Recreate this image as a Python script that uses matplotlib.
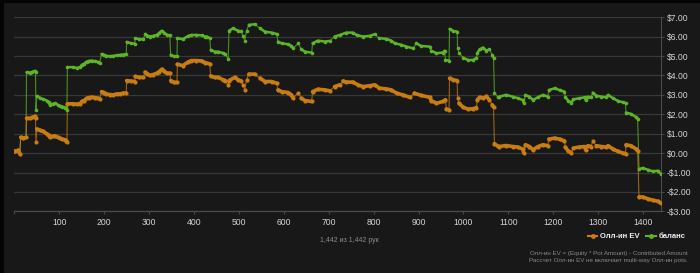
import matplotlib.pyplot as plt
import numpy as np
from matplotlib.lines import Line2D
from matplotlib.patches import Rectangle

plt.rcParams['font.family'] = ['Liberation Sans', 'DejaVu Sans']

# all-in EV (orange): hand number -> dollars
ev_hands = [0, 1, 8, 12, 14, 20, 26, 27, 35, 40, 46, 47, 48, 50, 57, 64, 72, 76, 79, 85, 90, 96,
            101, 107, 113, 116, 117, 118, 130, 140, 146, 150, 155, 161, 166, 172, 180, 186, 190,
            194, 200, 205, 212, 220, 228, 235, 242, 249, 250, 260, 268, 269, 278, 287, 291, 296,
            302, 309, 317, 322, 328, 333, 339, 346, 348, 356, 362, 363, 375, 387, 394, 405, 417,
            424, 435, 437, 446, 454, 465, 470, 476, 478, 491, 498, 505, 509, 513, 517, 522, 535,
            547, 558, 573, 584, 587, 595, 610, 617, 621, 632, 639, 647, 662, 664, 676, 691, 702,
            713, 725, 732, 739, 754, 765, 776, 791, 802, 813, 828, 839, 851, 865, 880, 891, 906,
            925, 928, 940, 954, 960, 962, 968, 969, 977, 986, 987, 990, 999, 1010, 1021, 1029,
            1031, 1036, 1044, 1051, 1058, 1064, 1067, 1069, 1077, 1080, 1095, 1110, 1121, 1132,
            1134, 1138, 1147, 1155, 1166, 1177, 1188, 1190, 1203, 1214, 1225, 1227, 1233, 1240,
            1245, 1258, 1270, 1272, 1277, 1284, 1288, 1296, 1307, 1318, 1322, 1333, 1344, 1355,
            1361, 1362, 1373, 1385, 1388, 1391, 1399, 1411, 1422, 1433, 1439]
ev_values = [0.09, 0.09, 0.14, -0.03, 0.81, 0.77, 0.81, 1.80, 1.79, 1.84, 1.89, 1.80, 0.57, 1.25,
             1.17, 1.12, 1.00, 0.91, 0.81, 0.86, 0.89, 0.82, 0.77, 0.72, 0.69, 0.64, 0.57, 2.54,
             2.54, 2.52, 2.54, 2.66, 2.71, 2.83, 2.86, 2.88, 2.86, 2.83, 2.78, 3.17, 3.12, 3.05,
             3.02, 3.00, 3.05, 3.05, 3.09, 3.09, 3.74, 3.71, 3.69, 3.95, 3.90, 3.90, 4.17, 4.09,
             4.00, 4.05, 4.12, 4.19, 4.32, 4.22, 4.12, 4.12, 3.74, 3.64, 3.64, 4.58, 4.51, 4.70,
             4.77, 4.77, 4.75, 4.67, 4.60, 3.98, 3.90, 3.90, 3.78, 3.74, 3.52, 3.74, 3.90, 3.78,
             3.72, 3.52, 3.26, 3.78, 4.07, 4.07, 3.86, 3.69, 3.69, 3.60, 3.26, 3.17, 3.12, 3.00,
             2.83, 3.12, 2.83, 2.71, 2.66, 3.17, 3.29, 3.26, 3.21, 3.43, 3.52, 3.72, 3.66, 3.66,
             3.52, 3.43, 3.47, 3.52, 3.35, 3.31, 3.26, 3.09, 3.00, 2.88, 3.09, 2.97, 2.88, 2.71,
             2.57, 2.66, 2.75, 2.27, 2.23, 3.86, 3.78, 3.74, 2.83, 2.57, 2.37, 2.27, 2.28, 2.35,
             2.75, 2.88, 2.83, 2.92, 2.75, 2.49, 2.37, 0.49, 0.35, 0.34, 0.39, 0.34, 0.31, 0.21,
             0.03, 0.43, 0.34, 0.17, 0.34, 0.43, 0.38, 0.72, 0.77, 0.72, 0.63, 0.31, 0.12, 0.03,
             0.26, 0.31, 0.34, 0.17, 0.38, 0.34, 0.60, 0.38, 0.34, 0.31, 0.38, 0.21, 0.09, 0.00,
             -0.03, 0.43, 0.38, 0.21, 0.12, -2.26, -2.26, -2.36, -2.43, -2.48, -2.57]

# balance (green)
bal_hands = [0, 1, 8, 12, 14, 20, 26, 27, 35, 40, 46, 47, 48, 50, 57, 64, 72, 76, 79, 85, 90, 96,
             101, 107, 113, 116, 117, 118, 130, 140, 146, 150, 155, 161, 166, 172, 180, 186, 190,
             194, 200, 205, 212, 220, 228, 235, 242, 249, 250, 260, 268, 269, 278, 287, 291, 296,
             302, 309, 317, 322, 328, 333, 339, 346, 348, 356, 362, 363, 375, 387, 394, 405, 417,
             424, 428, 435, 437, 446, 454, 465, 470, 476, 478, 487, 498, 505, 509, 513, 517, 522,
             535, 547, 558, 573, 584, 587, 595, 610, 617, 621, 632, 639, 647, 662, 664, 676, 691,
             702, 713, 725, 739, 754, 762, 776, 791, 802, 813, 828, 839, 847, 862, 873, 888, 895,
             906, 925, 928, 940, 954, 958, 960, 968, 969, 977, 986, 987, 990, 999, 1010, 1021,
             1029, 1031, 1036, 1044, 1051, 1058, 1064, 1067, 1069, 1077, 1080, 1095, 1110, 1121,
             1132, 1134, 1138, 1147, 1155, 1166, 1177, 1188, 1190, 1203, 1214, 1225, 1227, 1233,
             1240, 1245, 1258, 1270, 1272, 1277, 1284, 1288, 1296, 1307, 1318, 1322, 1333, 1344,
             1355, 1361, 1362, 1373, 1385, 1388, 1391, 1399, 1411, 1422, 1433, 1439]
bal_values = [0.09, 0.09, 0.14, -0.03, 0.81, 0.77, 0.81, 4.17, 4.15, 4.19, 4.24, 4.19, 2.23, 2.92,
              2.85, 2.78, 2.71, 2.61, 2.49, 2.54, 2.57, 2.50, 2.44, 2.40, 2.35, 2.30, 2.23, 4.43,
              4.43, 4.39, 4.43, 4.55, 4.60, 4.72, 4.75, 4.77, 4.74, 4.70, 4.67, 5.11, 5.06, 5.01,
              4.99, 5.01, 5.04, 5.06, 5.08, 5.10, 5.73, 5.66, 5.64, 5.92, 5.87, 5.87, 6.14, 6.06,
              6.01, 6.04, 6.09, 6.18, 6.31, 6.21, 6.11, 6.07, 5.06, 4.98, 4.98, 5.92, 5.87, 6.04,
              6.09, 6.09, 6.07, 6.01, 6.01, 5.92, 5.32, 5.23, 5.23, 5.15, 5.10, 4.84, 6.31, 6.43,
              6.31, 6.28, 6.04, 5.80, 6.31, 6.61, 6.64, 6.43, 6.26, 6.21, 6.14, 5.75, 5.66, 5.61,
              5.52, 5.40, 5.66, 5.35, 5.23, 5.18, 5.66, 5.80, 5.75, 5.78, 6.01, 6.09, 6.21, 6.21,
              6.09, 6.01, 6.04, 6.13, 5.92, 5.89, 5.80, 5.66, 5.58, 5.49, 5.40, 5.66, 5.52, 5.49,
              5.28, 5.15, 5.18, 5.28, 4.80, 4.77, 6.40, 6.30, 6.26, 5.40, 5.18, 4.92, 4.80, 4.80,
              4.89, 5.15, 5.35, 5.44, 5.27, 5.35, 5.06, 4.92, 3.12, 2.88, 2.91, 3.00, 2.91, 2.83,
              2.74, 2.60, 3.00, 2.91, 2.74, 2.88, 3.00, 2.91, 3.25, 3.34, 3.25, 3.17, 2.88, 2.71,
              2.60, 2.77, 2.83, 2.88, 2.74, 2.91, 2.88, 3.12, 2.96, 2.91, 2.88, 3.00, 2.83, 2.69,
              2.62, 2.57, 2.09, 2.02, 1.85, 1.75, -0.82, -0.77, -0.86, -0.94, -0.91, -1.06]

x_ticks = [0, 100, 200, 300, 400, 500, 600, 700, 800, 900, 1000, 1100, 1200, 1300, 1400]
y_ticks = [-3, -2, -1, 0, 1, 2, 3, 4, 5, 6, 7]

ORANGE = '#c97c12'
GREEN = '#5cb526'


def runs(h, v, jump=0.2):
    # break the thick band wherever the series jumps
    h = np.array(h, dtype=float)
    v = np.array(v, dtype=float)
    cut = np.where(np.abs(np.diff(v)) > jump)[0] + 1
    hh = np.insert(h, cut, np.nan)
    vv = np.insert(v, cut, np.nan)
    return hh, vv


def draw(ax, h, v, color, band, ms):
    ax.plot(h, v, color=color, lw=0.8, alpha=0.75, zorder=3)
    hh, vv = runs(h, v)
    ax.plot(hh, vv, color=color, lw=band, solid_capstyle='round', zorder=4)
    ax.plot(h, v, ls='none', marker='o', ms=ms, color=color, mew=0, zorder=5)


fig = plt.figure(figsize=(7, 2.73), dpi=100, facecolor='#050505')
fig.patches.append(Rectangle((4 / 700, 0), 1, 1 - 3 / 273, transform=fig.transFigure,
                             facecolor='#181818', edgecolor='none', zorder=-10))

ax = fig.add_axes([14.4 / 700, 1 - 211.3 / 273, 646.6 / 700, 194 / 273])
ax.set_facecolor('none')

draw(ax, bal_hands, bal_values, GREEN, 1.8, 2.6)
draw(ax, ev_hands, ev_values, ORANGE, 2.6, 3.0)

ax.set_xlim(0, 1440)
ax.set_ylim(-3, 7)
ax.set_xticks(x_ticks)
ax.set_xticklabels([''] + [str(t) for t in x_ticks[1:]])
ax.set_yticks(y_ticks)
ax.set_yticklabels([f'-${-t:.2f}' if t < 0 else f'${t:.2f}' for t in y_ticks])
ax.yaxis.tick_right()
ax.grid(axis='y', color='#383838', lw=0.9)
ax.set_axisbelow(True)
for side in ['left', 'top']:
    ax.spines[side].set_visible(False)
ax.spines['right'].set_color('#4a4a4a')
ax.spines['bottom'].set_color('#4a4a4a')
ax.spines['right'].set_linewidth(0.8)
ax.spines['bottom'].set_linewidth(0.9)
ax.tick_params(axis='y', colors='#4a4a4a', labelcolor='#d4d4d4', labelsize=6.2, length=2.5, pad=1.5)
ax.tick_params(axis='x', colors='#4a4a4a', labelcolor='#d4d4d4', labelsize=6.2, length=2.5, pad=2.5)

fig.text(349 / 700, 1 - 241 / 273, '1,442 из 1,442 рук', color='#8c8c8c', fontsize=5.0,
         ha='center', va='center')

handles = [Line2D([], [], color=ORANGE, lw=1.5, marker='o', ms=2.5),
           Line2D([], [], color=GREEN, lw=1.5, marker='o', ms=2.5)]
leg = fig.legend(handles, ['Олл-ин EV', 'баланс'], loc='center right',
                 bbox_to_anchor=(689 / 700, 1 - 236.5 / 273), ncol=2, frameon=False,
                 handlelength=1.2, handletextpad=0.35, columnspacing=0.9, borderpad=0,
                 prop={'size': 5.5, 'weight': 'bold'})
for t in leg.get_texts():
    t.set_color('#f0f0f0')

fig.text(688 / 700, 1 - 254 / 273, 'Олл-ин EV = (Equity * Pot Amount) - Contributed Amount',
         color='#8a8a8a', fontsize=4.5, ha='right', va='center')
fig.text(688 / 700, 1 - 260.5 / 273, 'Рассчет Олл-ин EV не включает multi-way Олл-ин pots.',
         color='#8a8a8a', fontsize=4.5, ha='right', va='center')

fig.savefig('out.png', dpi=100, facecolor=fig.get_facecolor())
